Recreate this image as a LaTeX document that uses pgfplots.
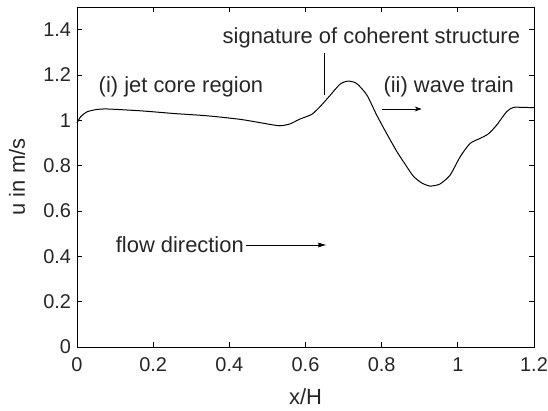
\documentclass[border=0pt]{standalone}
\usepackage{pgfplots}
\pgfplotsset{compat=1.18}
\usepackage{fontspec}
\setmainfont{Liberation Sans}
\usetikzlibrary{arrows.meta}
\newcommand{\annf}{\fontsize{22}{26}\selectfont}
\newcommand{\tickf}{\fontsize{20}{24}\selectfont}
\begin{document}
\begin{tikzpicture}
\begin{axis}[
  at={(0,0)}, anchor=south west,
  scale only axis,
  width=457bp, height=340bp,
  xmin=0, xmax=1.2, ymin=0, ymax=1.5,
  xtick={0,0.2,0.4,0.6,0.8,1,1.2},
  ytick={0,0.2,0.4,0.6,0.8,1,1.2,1.4},
  tick align=inside,
  major tick length=5bp,
  axis line style={line width=0.9bp},
  every tick/.style={line width=0.8bp, black},
  tick label style={font=\tickf, text=black!85},
  xticklabel style={anchor=base, yshift=-24bp},
  yticklabel style={anchor=east, xshift=-2.5bp},
  /pgf/number format/assume math mode=true,
  xlabel={x/H}, ylabel={u in m/s},
  xlabel style={font=\annf, text=black!85, at={(axis description cs:0.5,0)}, anchor=base, yshift=-57bp},
  ylabel style={font=\annf, text=black!85, at={([xshift=-52bp]axis description cs:0,0.5)}, anchor=base, rotate=0},
  clip=false,
]
\addplot[black, line width=1bp, smooth, tension=0.4] coordinates {
(0,0.988) (0.0097,1.016) (0.027,1.038) (0.053,1.048) (0.08,1.050)
(0.167,1.042) (0.255,1.030) (0.342,1.020) (0.43,1.004) (0.507,0.982)
(0.533,0.976) (0.559,0.984) (0.586,1.006) (0.616,1.026) (0.638,1.06)
(0.664,1.109) (0.691,1.16) (0.712,1.173) (0.734,1.163) (0.761,1.112)
(0.787,1.023) (0.813,0.942) (0.84,0.862) (0.866,0.795) (0.884,0.752)
(0.905,0.724) (0.927,0.710) (0.953,0.719) (0.98,0.759) (1.006,0.839)
(1.032,0.898) (1.058,0.920) (1.08,0.94) (1.102,0.979) (1.128,1.038)
(1.146,1.057) (1.172,1.057) (1.2,1.056)
};
\node[font=\annf, text=black!85] at (axis cs:0.273,1.147) {(i) jet core region};
\node[font=\annf, text=black!85] at (axis cs:0.773,1.363) {signature of coherent structure};
\draw[line width=0.8bp] (axis cs:0.649,1.298) -- (axis cs:0.649,1.111);
\node[font=\annf, text=black!85] at (axis cs:0.976,1.147) {(ii) wave train};
\draw[line width=0.8bp, -{Stealth[length=7bp,width=5bp]}] (axis cs:0.801,1.05) -- (axis cs:0.905,1.05);
\node[font=\annf, text=black!85] at (axis cs:0.27,0.45) {flow direction};
\draw[line width=0.8bp, -{Latex[length=8bp,width=5bp]}] (axis cs:0.443,0.45) -- (axis cs:0.655,0.45);
\end{axis}
\pgfresetboundingbox
\path (-77bp,-64bp) rectangle (471bp,347bp);
\end{tikzpicture}
\end{document}
